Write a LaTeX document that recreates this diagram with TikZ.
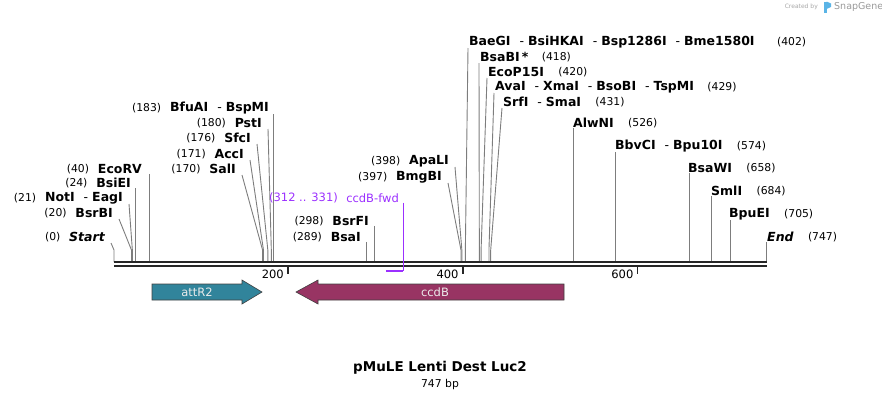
\documentclass[tikz,border=0pt]{standalone}
\usepackage{fontspec}
\setmainfont{DejaVu Sans}
\usepackage{tikz}
\usetikzlibrary{positioning}

\definecolor{attrcol}{RGB}{49,132,155}
\definecolor{ccdbcol}{RGB}{152,52,99}
\definecolor{primercol}{RGB}{155,48,255}
\definecolor{sitecol}{RGB}{125,125,125}
\definecolor{logoblue}{RGB}{90,180,230}

\newcommand{\dsh}{\hspace{9pt}\textmd{-}\hspace{4pt}}

\tikzset{
  enz/.style={font=\fontsize{12.5}{13}\bfseries, inner sep=0pt},
  num/.style={font=\fontsize{10.8}{12}\selectfont, inner sep=0pt},
  lbl/.style={font=\fontsize{11.5}{12}\selectfont, inner sep=0pt},
  site/.style={draw=sitecol, line width=0.9pt},
  feat/.style={draw=black!75, line width=0.6pt},
}

\begin{document}
\begin{tikzpicture}[x=1pt, y=-1pt]
    \useasboundingbox (0,0) rectangle (882,400);

    % site positions on the backbone
    \foreach \n/\p in {start/0, bsrbi/20, noti/21, bsiei/24, ecorv/40, sali/170, acci/171,
        sfci/176, psti/180, bfuai/183, bsai/289, bsrfi/298, bmgbi/397, apali/398, baegi/402,
        bsabi/418, ecop/420, avai/429, srfi/431, alwni/526, bbvci/574, bsawi/658, smli/684,
        bpuei/705, stop/747}
      {\coordinate (t-\n) at ({114+0.874*\p},250);
       \coordinate (b-\n) at ({114+0.874*\p},262);}

    % left labels
    \node[enz, anchor=east] (l-start) at (105,237) {\itshape Start};
    \node[num, left=8.5pt of l-start] (n-start) {(0)};
    \node[enz, anchor=east] (l-bsrbi) at (113,213) {BsrBI};
    \node[num, left=8.5pt of l-bsrbi] (n-bsrbi) {(20)};
    \node[enz, anchor=east] (l-noti) at (123,198) {NotI\dsh EagI};
    \node[num, left=8.5pt of l-noti] (n-noti) {(21)};
    \node[enz, anchor=east] (l-bsiei) at (131,183) {BsiEI};
    \node[num, left=8.5pt of l-bsiei] (n-bsiei) {(24)};
    \node[enz, anchor=east] (l-ecorv) at (142,169) {EcoRV};
    \node[num, left=8.5pt of l-ecorv] (n-ecorv) {(40)};
    \node[enz, anchor=east] (l-sali) at (236,169) {SalI};
    \node[num, left=8.5pt of l-sali] (n-sali) {(170)};
    \node[enz, anchor=east] (l-acci) at (244,154) {AccI};
    \node[num, left=8.5pt of l-acci] (n-acci) {(171)};
    \node[enz, anchor=east] (l-sfci) at (251,138) {SfcI};
    \node[num, left=8.5pt of l-sfci] (n-sfci) {(176)};
    \node[enz, anchor=east] (l-psti) at (262,123) {PstI};
    \node[num, left=8.5pt of l-psti] (n-psti) {(180)};
    \node[enz, anchor=east] (l-bfuai) at (269,108) {BfuAI\dsh BspMI};
    \node[num, left=8.5pt of l-bfuai] (n-bfuai) {(183)};
    \node[enz, anchor=east] (l-bsrfi) at (369,221) {BsrFI};
    \node[num, left=8.5pt of l-bsrfi] (n-bsrfi) {(298)};
    \node[enz, anchor=east] (l-bsai) at (361,237) {BsaI};
    \node[num, left=8.5pt of l-bsai] (n-bsai) {(289)};
    \node[enz, anchor=east] (l-apali) at (449,161) {ApaLI};
    \node[num, left=8.5pt of l-apali] (n-apali) {(398)};
    \node[enz, anchor=east] (l-bmgbi) at (442,177) {BmgBI};
    \node[num, left=8.5pt of l-bmgbi] (n-bmgbi) {(397)};

    % right labels
    \node[enz, anchor=west] (r-baegi) at (469,42) {BaeGI\dsh BsiHKAI\dsh Bsp1286I\dsh Bme1580I};
    \node[num, right=22pt of r-baegi] (n-baegi) {(402)};
    \node[enz, anchor=west] (r-bsabi) at (480,57) {BsaBI\,*};
    \node[num, right=13pt of r-bsabi] (n-bsabi) {(418)};
    \node[enz, anchor=west] (r-ecop) at (488,72) {EcoP15I};
    \node[num, right=14pt of r-ecop] (n-ecop) {(420)};
    \node[enz, anchor=west] (r-avai) at (495,87) {AvaI\dsh XmaI\dsh BsoBI\dsh TspMI};
    \node[num, right=13pt of r-avai] (n-avai) {(429)};
    \node[enz, anchor=west] (r-srfi) at (503,102) {SrfI\dsh SmaI};
    \node[num, right=14pt of r-srfi] (n-srfi) {(431)};
    \node[enz, anchor=west] (r-alwni) at (573,123) {AlwNI};
    \node[num, right=14pt of r-alwni] (n-alwni) {(526)};
    \node[enz, anchor=west] (r-bbvci) at (615,146) {BbvCI\dsh Bpu10I};
    \node[num, right=14pt of r-bbvci] (n-bbvci) {(574)};
    \node[enz, anchor=west] (r-bsawi) at (688,168) {BsaWI};
    \node[num, right=14pt of r-bsawi] (n-bsawi) {(658)};
    \node[enz, anchor=west] (r-smli) at (711,191) {SmlI};
    \node[num, right=14pt of r-smli] (n-smli) {(684)};
    \node[enz, anchor=west] (r-bpuei) at (729,214) {BpuEI};
    \node[num, right=14pt of r-bpuei] (n-bpuei) {(705)};
    \node[enz, anchor=west] (r-stop) at (767,237) {\itshape End};
    \node[num, right=14pt of r-stop] (n-stop) {(747)};

    % draw cut site lines
    \foreach \n in {start, bsrbi, noti, sali, acci, sfci, psti, apali, bmgbi}
      \draw[site] ([shift={(6pt,-6pt)}]l-\n.east) -- (t-\n) -- (b-\n);
    \foreach \n in {bsiei, ecorv, bfuai, bsrfi, bsai}
      \draw[site] (b-\n |- l-\n.south) -- (b-\n);
    \foreach \n in {baegi, bsabi, ecop, avai, srfi}
      \draw[site] ([shift={(-1pt,-6pt)}]r-\n.west) -- (t-\n) -- (b-\n);
    \foreach \n in {alwni, bbvci, bsawi, smli, bpuei, stop}
      \draw[site] (b-\n |- r-\n.south) -- (b-\n);

    % draw backbone
    \draw[line width=2.4pt, black!85] (b-start) -- (b-stop);
    \draw[line width=2.4pt, black!85] ([yshift=-4pt]b-start) -- ([yshift=-4pt]b-stop);

    % draw ticks
    \foreach \v in {200,400,600} {
      \draw[line width=1.8pt, black!85] ({114+0.874*(\v-1)},266) -- ++(0,8);
      \node[lbl, anchor=east] (tick\v) at ({114+0.874*(\v-1)-4},274) {\v};
    }

    % draw primer
    \node[lbl, anchor=east, text=primercol] (l-primer) at (399,198) {ccdB-fwd};
    \node[lbl, left=8pt of l-primer, text=primercol] (n-primer) {(312 .. 331)};
    \coordinate (p-a) at ({114+0.874*311},271);
    \coordinate (p-b) at ({114+0.874*331},271);
    \draw[primercol, line width=0.9pt] (p-b |- l-primer.south) -- (p-b);
    \draw[primercol, line width=2pt] (p-a) -- (p-b);

    % draw features
    \filldraw[feat, fill=attrcol] (152,284) -- (242,284) -- (242,280) -- (262,292)
      -- (242,304) -- (242,300) -- (152,300) -- cycle;
    \node[lbl, text=white!92!black] (attr2) at (197,292) {attR2};
    \filldraw[feat, fill=ccdbcol] (564,284) -- (318,284) -- (318,280) -- (296,292)
      -- (318,304) -- (318,300) -- (564,300) -- cycle;
    \node[lbl, text=white!92!black] (ccdb) at (435,292) {ccdB};

    % title
    \node[font=\fontsize{13.5}{14}\bfseries, inner sep=0pt] (title) at (440,368) {pMuLE Lenti Dest Luc2};
    \node[num, below=4pt of title] (size) {747 bp};

    % logo
    \node[font=\fontsize{6}{6}\selectfont, text=black!35, inner sep=0pt, anchor=east] (made) at (818,7) {Created by};
    \fill[logoblue] (824,1.5) rectangle (826.5,13);
    \fill[logoblue] (826.5,1.5) -- (831,3.5) -- (831,7) -- (826.5,9) -- cycle;
    \node[font=\fontsize{9.5}{10}\selectfont, text=black!40, inner sep=0pt, anchor=west] (snap) at (834,7) {SnapGene};
\end{tikzpicture}
\end{document}
